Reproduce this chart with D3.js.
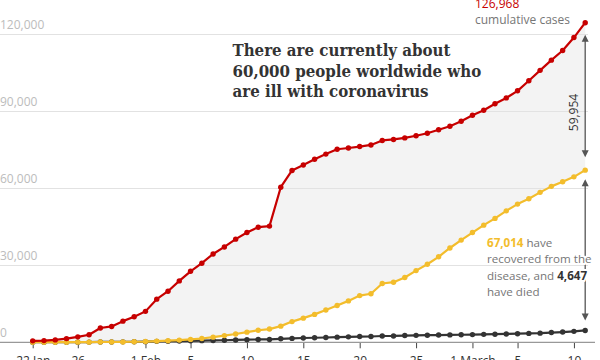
<!DOCTYPE html>
<html><head><meta charset="utf-8">
<script src="https://cdn.jsdelivr.net/npm/d3@7"></script>
<style>
body{margin:0;background:#fff}
svg{display:block;font-family:"Open Sans",sans-serif}
</style>
</head><body>
<svg id="c" width="600" height="360"></svg>
<script>
// ---- data ----
const startDate = "2020-01-22";
const endDate = "2020-03-11";
const cases = [555,654,941,1434,2118,2927,5578,6166,8234,9927,
  12038,16787,19881,23892,27635,30794,34391,37120,40150,42762,
  44802,45221,60368,66885,69030,71224,73258,75136,75639,76197,
  76819,78572,78958,79561,80406,81388,82746,84112,86011,88369,
  90306,92840,95120,97886,101801,105847,109821,113590,118620,124400];
const recovered = [28,30,36,39,52,61,107,126,143,222,
  284,472,623,852,1124,1487,2011,2616,3244,3946,
  4683,5150,6295,8058,9395,10865,12583,14352,16121,18177,
  18890,22886,23394,25227,27905,30384,33277,36711,39782,42716,
  45602,48228,51170,53796,55865,58358,60694,62494,64404,67003];
const deaths = [17,18,26,42,56,82,131,133,171,213,
  259,362,426,492,564,634,719,806,906,1013,
  1113,1118,1371,1523,1666,1770,1868,2007,2122,2247,
  2251,2458,2469,2629,2708,2770,2814,2872,2941,2996,
  3085,3160,3254,3348,3460,3558,3802,3988,4262,4615];
const xTickDates = ["2020-01-22","2020-01-26","2020-02-01","2020-02-05","2020-02-10","2020-02-15","2020-02-20","2020-02-25","2020-03-01","2020-03-05","2020-03-10"];
const xTickLabels = ["22 Jan","26","1 Feb","5","10","15","20","25","1 March","5","10"];
const yTicks = [0,30000,60000,90000,120000];
const yTickLabels = ["0","30,000","60,000","90,000","120,000"];
const titleLines = ["There are currently about","60,000 people worldwide who","are ill with coronavirus"];
const casesLabel = "126,968";
const casesText = "cumulative cases";
const activeLabel = "59,954";
const recoveredLabel = "67,014";
const deathsLabel = "4,647";

// ---- setup ----
const RED = "#c70000", YELLOW = "#f3bd2c", DARK = "#333333";
const svg = d3.select("#c");
const parse = d3.utcParse("%Y-%m-%d");
const dates = d3.utcDay.range(parse(startDate), d3.utcDay.offset(parse(endDate), 1));
const x = d3.scaleUtc().domain([parse(startDate), parse(endDate)]).range([32.7, 585.2]);
const y = d3.scaleLinear().domain([0, 120000]).range([342.3, 34]);

const rows = dates.map((d, i) => ({d, c: cases[i], r: recovered[i], k: deaths[i]}));

// fill between cases and recovered
svg.append("path").datum(rows)
  .attr("fill", "#f3f3f3")
  .attr("d", d3.area().x(d => x(d.d)).y0(d => y(d.r)).y1(d => y(d.c)));

// gridlines + labels
const gy = svg.append("g");
yTicks.forEach((v, i) => {
  if (v !== 0) {
    gy.append("line").attr("x1", 0).attr("x2", 588)
      .attr("y1", Math.round(y(v)) + 0.5).attr("y2", Math.round(y(v)) + 0.5)
      .attr("stroke", "#e2e2e2").attr("stroke-width", 1);
  }
  gy.append("text").attr("x", 0).attr("y", y(v) - 5)
    .attr("font-size", 12).attr("fill", "#bcbcbc").text(yTickLabels[i]);
});

// x axis
const xa = svg.append("g").attr("transform", `translate(0,${y(0)})`)
  .call(d3.axisBottom(x).tickValues(xTickDates.map(parse))
    .tickFormat((d, i) => xTickLabels[i]).tickSize(6).tickSizeOuter(0).tickPadding(8));
xa.attr("font-family", null).attr("font-size", null);
xa.select(".domain").remove();
xa.selectAll(".tick line").attr("stroke", "#444");
xa.selectAll(".tick text").attr("font-size", 12).attr("fill", "#333");
svg.append("line").attr("x1", 0).attr("x2", 595).attr("y1", y(0)).attr("y2", y(0))
  .attr("stroke", "#999").attr("stroke-width", 1.2);

// series
function series(key, color) {
  const g = svg.append("g");
  g.append("path").datum(rows).attr("fill", "none").attr("stroke", color)
    .attr("stroke-width", 2.2).attr("stroke-linejoin", "round")
    .attr("d", d3.line().x(d => x(d.d)).y(d => y(d[key])));
  g.selectAll("circle").data(rows).join("circle")
    .attr("cx", d => x(d.d)).attr("cy", d => y(d[key])).attr("r", 2.7).attr("fill", color);
}
series("k", DARK);
series("r", YELLOW);
series("c", RED);

// title
const title = svg.append("text").attr("font-weight", "bold")
  .attr("fill", "#333").style("font-family", '"DejaVu Serif Condensed","DejaVu Serif",serif');
title.selectAll("tspan").data(titleLines).join("tspan")
  .attr("x", 232.5).attr("y", (d, i) => 56 + i * 20.5).text(d => d);
title.attr("font-size", 18);
const w = title.select("tspan:nth-child(2)").node().getComputedTextLength();
title.attr("font-size", 18 * 249 / w);

// arrows
const last = rows[rows.length - 1];
const ax = x(last.d);
function arrow(y1, y2) {
  const g = svg.append("g").attr("fill", "#555").attr("stroke", "#555");
  g.append("line").attr("x1", ax).attr("x2", ax).attr("y1", y1 + 5).attr("y2", y2 - 5)
    .attr("stroke-width", 1.3);
  g.append("path").attr("stroke", "none")
    .attr("d", `M${ax},${y1}L${ax - 3.5},${y1 + 7}L${ax + 3.5},${y1 + 7}Z M${ax},${y2}L${ax - 3.5},${y2 - 7}L${ax + 3.5},${y2 - 7}Z`);
}
arrow(y(last.c) + 12, y(last.r) - 13);
arrow(y(last.r) + 9, y(last.k) - 10);

// rotated label
svg.append("text").attr("transform", "translate(578,112.5) rotate(-90)")
  .attr("text-anchor", "middle").attr("font-size", 12).attr("fill", "#333").text(activeLabel);

// top-right label
svg.append("text").attr("x", 475).attr("y", 8).attr("font-size", 12).attr("fill", RED).text(casesLabel);
svg.append("text").attr("x", 475).attr("y", 23.5).attr("font-size", 12).attr("fill", "#767676").text(casesText);

// lower annotation
const ann = svg.append("text").attr("font-size", 11.6).attr("fill", "#767676")
  .attr("stroke", "#fff").attr("stroke-width", 4).attr("stroke-linejoin", "round")
  .attr("paint-order", "stroke");
const l1 = ann.append("tspan").attr("x", 487).attr("y", 246.5);
l1.append("tspan").attr("fill", YELLOW).attr("font-weight", "bold").text(recoveredLabel);
l1.append("tspan").text(" have");
ann.append("tspan").attr("x", 487).attr("y", 263).text("recovered from the");
const l3 = ann.append("tspan").attr("x", 487).attr("y", 279.5);
l3.append("tspan").text("disease, and ");
l3.append("tspan").attr("fill", "#333").attr("font-weight", "bold").text(deathsLabel);
ann.append("tspan").attr("x", 487).attr("y", 295.5).text("have died");
</script>
</body></html>
